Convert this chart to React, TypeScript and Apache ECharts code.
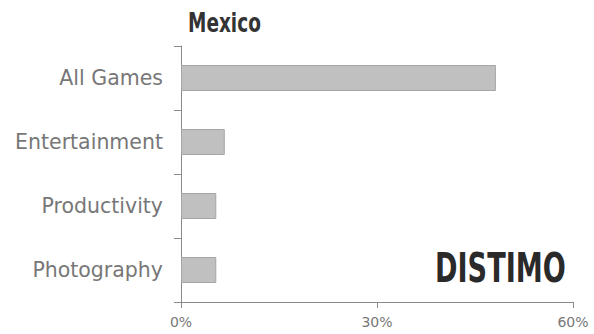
import React, { useEffect, useRef } from "react";
import * as echarts from "echarts";

const categories = ["All Games", "Entertainment", "Productivity", "Photography"];
const values = [48.2, 6.7, 5.4, 5.4];
const xTicks = [0, 30, 60];
const titleText = "Mexico";
const logoText = "DISTIMO";

export default function App() {
  const ref = useRef<HTMLDivElement>(null);
  useEffect(() => {
    if (!ref.current) return;
    const chart = echarts.init(ref.current, undefined, { renderer: "svg" });
    chart.setOption({
      animation: false,
      grid: { left: 181, right: 21, top: 46, bottom: 32, containLabel: false },
      xAxis: {
        type: "value",
        min: xTicks[0],
        max: xTicks[xTicks.length - 1],
        interval: xTicks[1] - xTicks[0],
        axisLine: { show: true, lineStyle: { color: "#8a8a8a", width: 1 } },
        axisTick: { show: true, length: 6, lineStyle: { color: "#8a8a8a" } },
        splitLine: { show: false },
        axisLabel: {
          formatter: "{value}%",
          color: "#777777",
          fontFamily: "DejaVu Sans",
          fontSize: 14,
          margin: 13,
        },
      },
      yAxis: {
        type: "category",
        inverse: true,
        data: categories,
        axisLine: { show: true, lineStyle: { color: "#8a8a8a", width: 1 } },
        axisTick: { show: true, length: 7, alignWithLabel: false, lineStyle: { color: "#8a8a8a" } },
        axisLabel: {
          color: "#777777",
          fontFamily: "DejaVu Sans",
          fontSize: 20.5,
          margin: 18,
        },
      },
      series: [
        {
          type: "bar",
          data: values,
          barWidth: 26,
          itemStyle: { color: "#c0c0c0", borderColor: "#a6a6a6", borderWidth: 1 },
        },
      ],
      graphic: [
        {
          type: "text",
          x: 188,
          y: 23,
          scaleX: 0.685,
          style: {
            text: titleText,
            fill: "#333333",
            font: "bold 27px 'DejaVu Sans'",
            textVerticalAlign: "middle",
          },
        },
        {
          type: "text",
          x: 435,
          y: 268,
          scaleX: 0.662,
          style: {
            text: logoText,
            fill: "#2a2a2a",
            font: "bold 41px 'DejaVu Sans'",
            textVerticalAlign: "middle",
          },
        },
      ],
    });
    return () => chart.dispose();
  }, []);
  return <div ref={ref} style={{ width: 594, height: 334, position: "absolute", left: 0, top: 0 }} />;
}
